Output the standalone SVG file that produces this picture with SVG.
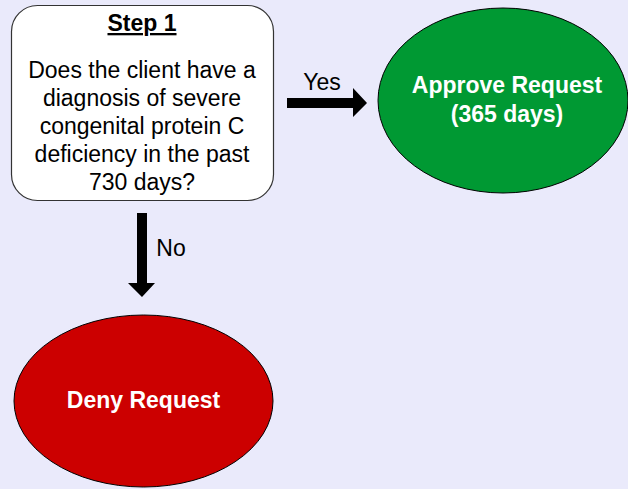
<svg xmlns="http://www.w3.org/2000/svg" width="628" height="489" viewBox="0 0 628 489">
<style>
text{font-family:"Liberation Sans",Arial,sans-serif;font-size:23px;text-anchor:middle}
.b{font-weight:bold;fill:#fff}
.sh{stroke:#000;stroke-width:1}
</style>
<rect width="628" height="489" fill="#EAEAFB"/>
<g id="step1">
<rect x="11.5" y="5.5" width="262" height="195" rx="26" fill="#fff" stroke="#333" stroke-width="1.2"/>
<text x="142" y="31" font-weight="bold" text-decoration="underline">Step 1</text>
<text x="142" y="78">Does the client have a</text>
<text x="142" y="106">diagnosis of severe</text>
<text x="142" y="134">congenital protein C</text>
<text x="142" y="162">deficiency in the past</text>
<text x="142" y="190">730 days?</text>
</g>
<g id="approve">
<ellipse cx="503" cy="100.5" rx="125" ry="92.5" fill="#009933" class="sh"/>
<text class="b" x="507" y="93">Approve Request</text>
<text class="b" x="507" y="122">(365 days)</text>
</g>
<g id="deny">
<ellipse cx="143.5" cy="401" rx="129.5" ry="86" fill="#CC0000" class="sh"/>
<text class="b" x="143.5" y="408">Deny Request</text>
</g>
<g id="connectors">
<polygon points="287,98 353,98 353,88 367,103 353,117 353,108 287,108" fill="#000"/>
<text x="322" y="90">Yes</text>
<polygon points="137,213 147,213 147,283 155,283 142,297 128,283 137,283" fill="#000"/>
<text x="171" y="256">No</text>
</g>
</svg>
